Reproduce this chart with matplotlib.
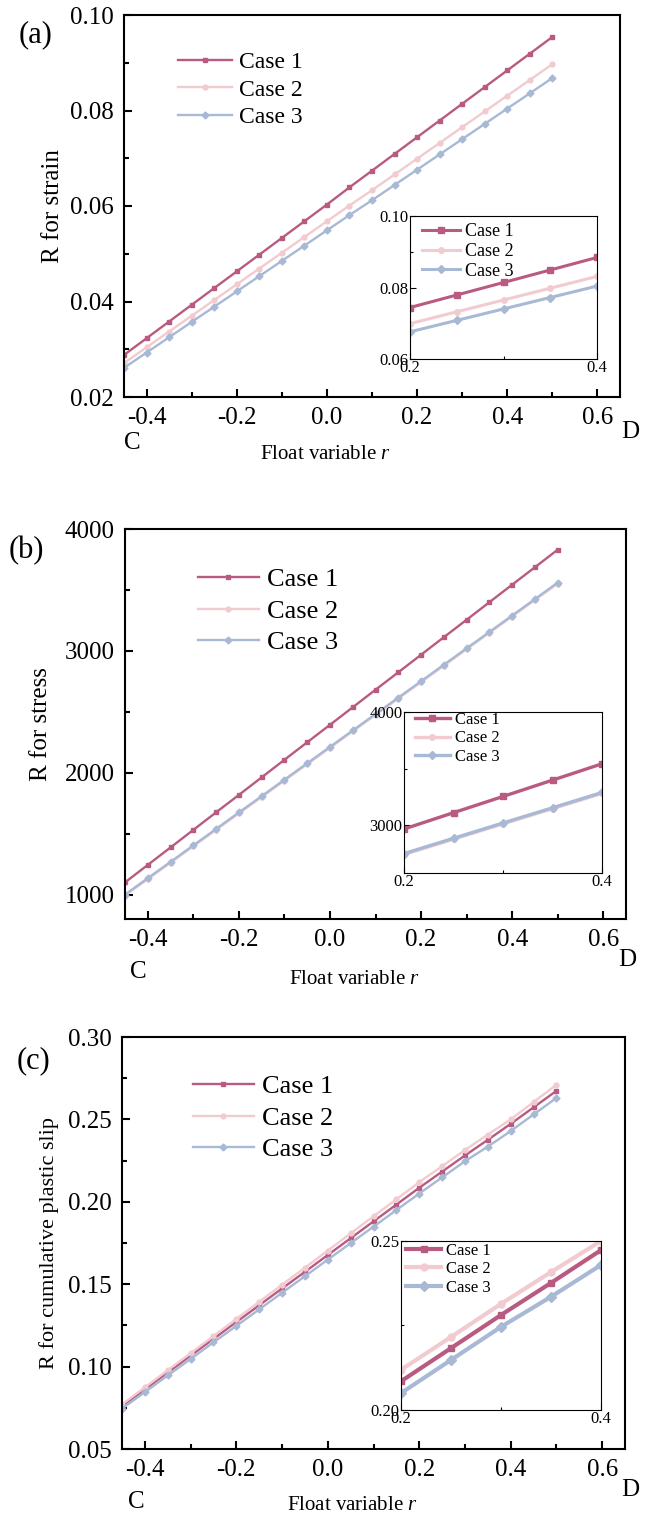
import matplotlib
matplotlib.use("Agg")
import matplotlib.pyplot as plt
from matplotlib.ticker import MultipleLocator

plt.rcParams['font.family'] = ['Liberation Serif', 'DejaVu Serif']
plt.rcParams['mathtext.fontset'] = 'custom'
plt.rcParams['mathtext.it'] = 'Liberation Serif:italic'
plt.rcParams['axes.unicode_minus'] = False

# float variable r, sampled every 0.05
r_vals = [-0.45, -0.40, -0.35, -0.30, -0.25, -0.20, -0.15, -0.10, -0.05, 0.00,
          0.05, 0.10, 0.15, 0.20, 0.25, 0.30, 0.35, 0.40, 0.45, 0.50]

strain_case1 = [0.0288, 0.0323, 0.0358, 0.0393, 0.0428, 0.0463, 0.0498, 0.0533, 0.0568, 0.0603,
                0.0639, 0.0674, 0.0709, 0.0744, 0.0779, 0.0814, 0.0849, 0.0884, 0.0919, 0.0954]
strain_case2 = [0.0271, 0.0304, 0.0337, 0.0370, 0.0403, 0.0436, 0.0469, 0.0502, 0.0535, 0.0568,
                0.0601, 0.0633, 0.0666, 0.0699, 0.0732, 0.0765, 0.0798, 0.0831, 0.0864, 0.0897]
strain_case3 = [0.0261, 0.0293, 0.0325, 0.0357, 0.0389, 0.0421, 0.0453, 0.0485, 0.0517, 0.0549,
                0.0581, 0.0612, 0.0644, 0.0676, 0.0708, 0.0740, 0.0772, 0.0804, 0.0836, 0.0868]

stress_case1 = [1100, 1244, 1387, 1531, 1675, 1818, 1962, 2106, 2250, 2393,
                2537, 2681, 2824, 2968, 3112, 3255, 3399, 3543, 3686, 3830]
stress_case2 = [992, 1127, 1261, 1396, 1531, 1666, 1800, 1935, 2070, 2204,
                2339, 2474, 2608, 2743, 2878, 3013, 3147, 3282, 3417, 3552]
stress_case3 = [1000, 1135, 1269, 1404, 1539, 1674, 1808, 1943, 2078, 2212,
                2347, 2482, 2616, 2751, 2886, 3021, 3155, 3290, 3425, 3560]

slip_case1 = [0.0760, 0.0862, 0.0964, 0.1066, 0.1168, 0.1270, 0.1372, 0.1474, 0.1575, 0.1677,
              0.1779, 0.1881, 0.1983, 0.2085, 0.2183, 0.2281, 0.2376, 0.2473, 0.2573, 0.2673]
slip_case2 = [0.0770, 0.0874, 0.0978, 0.1081, 0.1185, 0.1289, 0.1393, 0.1497, 0.1600, 0.1704,
              0.1808, 0.1912, 0.2015, 0.2119, 0.2216, 0.2314, 0.2408, 0.2500, 0.2605, 0.2710]
slip_case3 = [0.0745, 0.0845, 0.0946, 0.1046, 0.1147, 0.1247, 0.1347, 0.1448, 0.1548, 0.1649,
              0.1749, 0.1849, 0.1950, 0.2050, 0.2148, 0.2246, 0.2335, 0.2429, 0.2530, 0.2630]

case_labels = ['Case 1', 'Case 2', 'Case 3']
colors = ['#b95a80', '#f2cbd0', '#a8b9d5']
markers = ['s', 'o', 'D']

W, H = 647, 1519
fig = plt.figure(figsize=(W / 100, H / 100), dpi=100)


def px_axes(l, r, t, b):
    return fig.add_axes([l / W, 1 - b / H, (r - l) / W, (b - t) / H])


def style_axes(ax, lw, size, length, pad):
    for s in ax.spines.values():
        s.set_linewidth(lw)
    ax.tick_params(which='both', direction='in', top=False, right=False,
                   width=lw, labelsize=size, pad=pad)
    ax.tick_params(which='major', length=length)
    ax.tick_params(which='minor', length=length * 0.6)


def panel(rect, inset_rect, series, ylim, ymaj, ymin, ylabel, ylabel_size,
          ylabel_x, tag, tag_xy, xlabel_xy, c_xy, d_xy,
          leg_anchor, leg_size, leg_space,
          iylim, iymaj, iymin, ileg_anchor, ileg_size, ilw, ims, fmt):
    ax = px_axes(*rect)
    for ys, lab, c, m in zip(series, case_labels, colors, markers):
        ax.plot(r_vals, ys, color=c, marker=m, ms=3.5, lw=1.7, label=lab)
    ax.set_xlim(-0.45, 0.65)
    ax.set_ylim(*ylim)
    ax.xaxis.set_major_locator(MultipleLocator(0.2))
    ax.xaxis.set_minor_locator(MultipleLocator(0.1))
    ax.yaxis.set_major_locator(MultipleLocator(ymaj))
    ax.yaxis.set_minor_locator(MultipleLocator(ymin))
    ax.yaxis.set_major_formatter(fmt)
    ax.xaxis.set_major_formatter(lambda v, p: f'{v:.1f}'.replace('-0.0', '0.0'))
    style_axes(ax, 1.5, 18, 6, 7.5)
    ax.set_xlabel('Float variable $\\mathit{r}$', fontsize=15, va='top')
    ax.xaxis.set_label_coords(*xlabel_xy)
    ax.set_ylabel(ylabel, fontsize=ylabel_size)
    ax.yaxis.set_label_coords(ylabel_x, 0.5)
    ax.text(c_xy[0], c_xy[1], 'C', transform=ax.transAxes, fontsize=18,
            ha='left', va='center')
    ax.text(d_xy[0], d_xy[1], 'D', transform=ax.transAxes, fontsize=18,
            ha='center', va='center')
    ax.legend(loc='upper left', bbox_to_anchor=leg_anchor, frameon=False,
              fontsize=leg_size, handlelength=2.3, labelspacing=leg_space,
              handletextpad=0.3, borderaxespad=0, borderpad=0)
    fig.text(tag_xy[0] / W, 1 - tag_xy[1] / H, tag, fontsize=22,
             ha='center', va='center')

    ia = px_axes(*inset_rect)
    for ys, lab, c, m in zip(series, case_labels, colors, markers):
        ia.plot(r_vals, ys, color=c, marker=m, ms=ims, lw=ilw, label=lab)
    ia.set_xlim(0.2, 0.4)
    ia.set_ylim(*iylim)
    ia.set_xticks([0.2, 0.4])
    ia.xaxis.set_minor_locator(MultipleLocator(0.1))
    ia.yaxis.set_major_locator(MultipleLocator(iymaj))
    ia.yaxis.set_minor_locator(MultipleLocator(iymin))
    ia.yaxis.set_major_formatter(fmt)
    ia.xaxis.set_major_formatter(lambda v, p: f'{v:.1f}')
    style_axes(ia, 0.8, 12, 4, 1)
    ia.legend(loc='upper left', bbox_to_anchor=ileg_anchor, frameon=False,
              fontsize=ileg_size, handlelength=2.1, labelspacing=0.15,
              handletextpad=0.3, borderaxespad=0, borderpad=0)
    return ax, ia


two_dec = lambda v, p: f'{v:.2f}'
no_dec = lambda v, p: f'{v:.0f}'

# (a) strain
panel((124, 620, 15, 397), (410, 597, 216, 359),
      [strain_case1, strain_case2, strain_case3],
      (0.02, 0.10), 0.02, 0.01, 'R for strain', 18, -0.12,
      '(a)', (36, 35), (0.405, -0.125), (0.0, -0.12), (1.02, -0.092),
      (0.109, 0.904), 17, 0.25,
      (0.06, 0.10), 0.02, 0.01, (0.064, 0.95), 13, 2.2, 4, two_dec)

# (b) stress
panel((125, 626, 529, 919), (404, 602, 712, 873),
      [stress_case1, stress_case2, stress_case3],
      (800, 4000), 1000, 500, 'R for stress', 18, -0.145,
      '(b)', (26, 551), (0.457, -0.13), (0.01, -0.137), (1.002, -0.105),
      (0.146, 0.900), 19, 0.3,
      (2580, 4000), 1000, 500, (0.055, 1.0), 12, 2.4, 4, no_dec)

# (c) cumulative plastic slip
panel((122, 625, 1037, 1449), (401, 601, 1241, 1410),
      [slip_case1, slip_case2, slip_case3],
      (0.05, 0.30), 0.05, 0.025, 'R for cumulative plastic slip', 16, -0.125,
      '(c)', (33, 1061), (0.459, -0.115), (0.012, -0.128), (1.01, -0.10),
      (0.141, 0.908), 19, 0.3,
      (0.20, 0.25), 0.05, 0.025, (0.025, 0.99), 12, 3, 5, two_dec)

fig.savefig('out.png', dpi=100)
